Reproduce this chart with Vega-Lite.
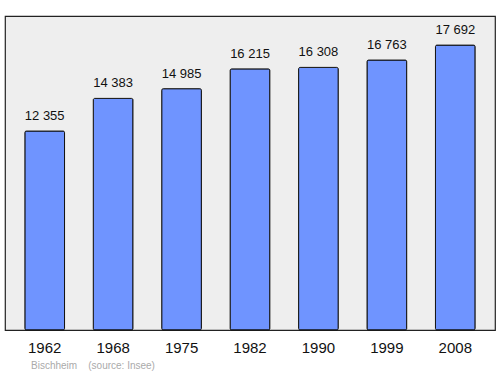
{
  "$schema": "https://vega.github.io/schema/vega-lite/v6.json",
  "autosize": {"type": "none"},
  "width": 490,
  "height": 314,
  "padding": {"left": 5, "top": 16, "right": 5, "bottom": 44},
  "background": "white",
  "config": {
    "view": {"fill": "#eeeeee", "stroke": "#222222", "strokeWidth": 1.2},
    "font": "Liberation Sans"
  },
  "title": {
    "text": "Bischheim\u00a0\u00a0\u00a0\u00a0(source: Insee)",
    "orient": "bottom",
    "anchor": "start",
    "dx": 26,
    "offset": 6,
    "fontSize": 10,
    "fontWeight": "normal",
    "color": "#aaaaaa",
    "font": "Liberation Sans"
  },
  "data": {
    "values": [
      {"year": "1962", "population": 12355, "label": "12 355"},
      {"year": "1968", "population": 14383, "label": "14 383"},
      {"year": "1975", "population": 14985, "label": "14 985"},
      {"year": "1982", "population": 16215, "label": "16 215"},
      {"year": "1990", "population": 16308, "label": "16 308"},
      {"year": "1999", "population": 16763, "label": "16 763"},
      {"year": "2008", "population": 17692, "label": "17 692"}
    ]
  },
  "encoding": {
    "x": {
      "field": "year",
      "type": "nominal",
      "sort": null,
      "scale": {"paddingInner": 0.42, "paddingOuter": 0.29},
      "axis": {
        "title": null,
        "labelAngle": 0,
        "labelFontSize": 15,
        "labelColor": "#111111",
        "labelPadding": 10,
        "domain": false,
        "ticks": false,
        "grid": false
      }
    },
    "y": {
      "field": "population",
      "type": "quantitative",
      "scale": {"domain": [0, 19500], "nice": false, "zero": true},
      "axis": null
    }
  },
  "layer": [
    {
      "mark": {"type": "bar", "fill": "#6f94ff", "stroke": "#111111", "strokeWidth": 1, "cornerRadius": 1.5}
    },
    {
      "mark": {"type": "text", "baseline": "alphabetic", "dy": -11, "fontSize": 13, "color": "#111111"},
      "encoding": {"text": {"field": "label"}}
    }
  ]
}
